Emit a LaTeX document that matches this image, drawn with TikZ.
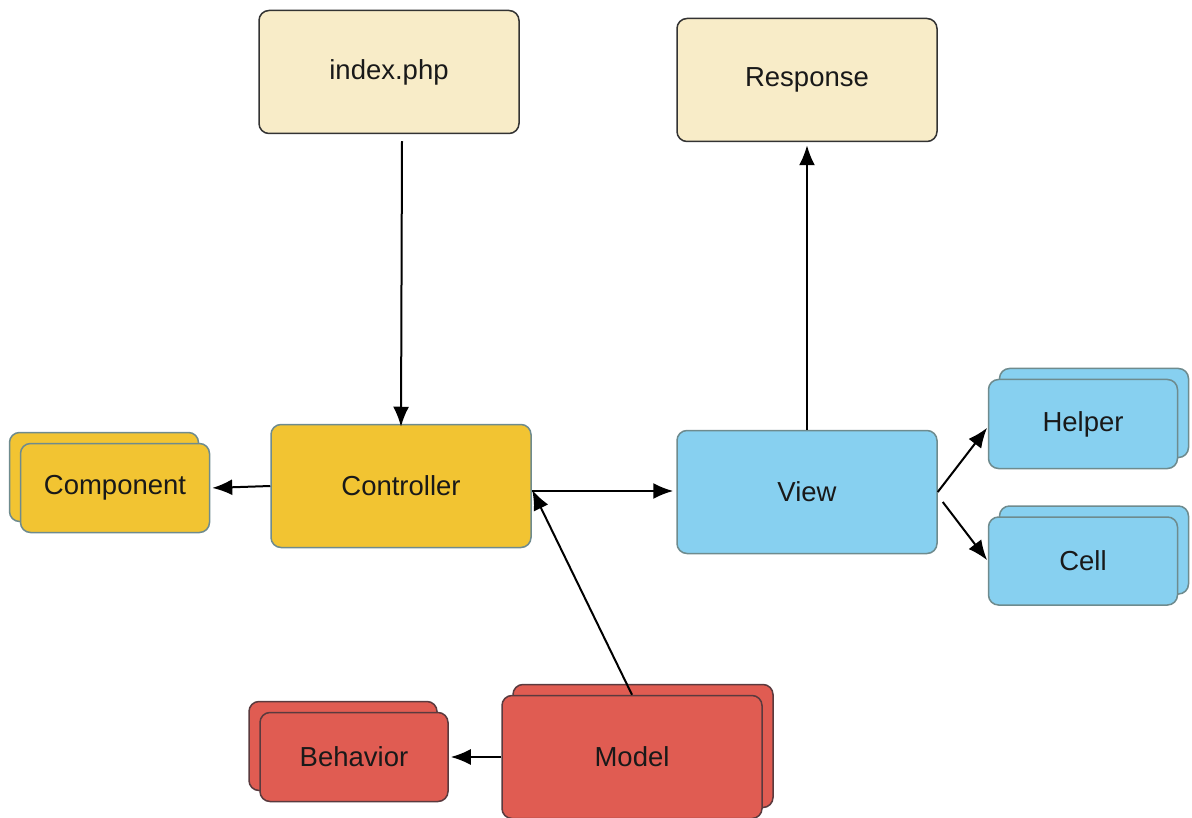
\documentclass[tikz,border=0pt]{standalone}
\usepackage{fontspec}
\setmainfont{Liberation Sans}
\usetikzlibrary{positioning,shapes,arrows.meta,shadows}

\definecolor{creamfill}{HTML}{F8ECC8}
\definecolor{ctrlfill}{HTML}{F2C432}
\definecolor{viewfill}{HTML}{87D0F0}
\definecolor{modelfill}{HTML}{E05C52}
\definecolor{tealline}{HTML}{6E8B8E}
\definecolor{redline}{HTML}{5A3A3E}

\begin{document}
\begin{tikzpicture}[
  x=1pt,y=-1pt,
  mybox/.style={draw,rounded corners=10pt,line width=1.5pt,inner sep=0pt,
    align=center,font=\fontsize{27.5}{33}\selectfont,text=black!90},
  bignode/.style={mybox,minimum width=260pt,minimum height=123pt},
  smallnode/.style={mybox,minimum width=189pt,minimum height=89pt},
  reqnode/.style={bignode,fill=creamfill,draw=black!80},
  ctrlnode/.style={fill=ctrlfill,draw=tealline},
  viewnode/.style={fill=viewfill,draw=tealline},
  modelnode/.style={fill=modelfill,draw=redline},
  stackleft/.style={copy shadow={shadow xshift=-11pt,shadow yshift=11pt}},
  stackright/.style={copy shadow={shadow xshift=11pt,shadow yshift=11pt}},
  arr/.style={-{Latex[length=20pt,width=16pt]},line width=2pt,black}
]
\useasboundingbox (0,0) rectangle (1192,818);

\node[reqnode] (idx) at (389,72) {index.php};
\node[reqnode] (resp) at (807,80) {Response};
\node[bignode,ctrlnode] (ctrl) at (401,486) {Controller};
\node[bignode,viewnode] (view) at (807,492) {View};
\node[smallnode,ctrlnode,stackleft] (comp) at (115,488) {Component};
\node[smallnode,viewnode,stackright] (helper) at (1083,424) {Helper};
\node[smallnode,viewnode,stackright,minimum height=88pt] (cell) at (1083,561) {Cell};
\node[smallnode,modelnode,stackleft,minimum width=188pt] (behav) at (354,757) {Behavior};
\node[bignode,modelnode,stackright] (model) at (632,757) {Model};

\path ([xshift=13pt,yshift=-7pt]idx.south) edge[arr] ([yshift=-3pt]ctrl.north)
(view.north) edge[arr,shorten >=3pt] (resp.south)
(ctrl.west) edge[arr,shorten >=2pt] (comp.east)
([yshift=-5pt]ctrl.east) edge[arr,shorten >=3pt] ([yshift=1pt]view.west)
(model.north) edge[arr,shorten >=1pt] ([yshift=-3pt]ctrl.east)
(model.west) edge[arr,shorten >=2pt] (behav.east)
(view.east) edge[arr,shorten >=1pt] ([yshift=-3pt]helper.west)
([yshift=-10pt,xshift=5pt]view.east) edge[arr,shorten >=1pt] (cell.west);

\end{tikzpicture}
\end{document}
